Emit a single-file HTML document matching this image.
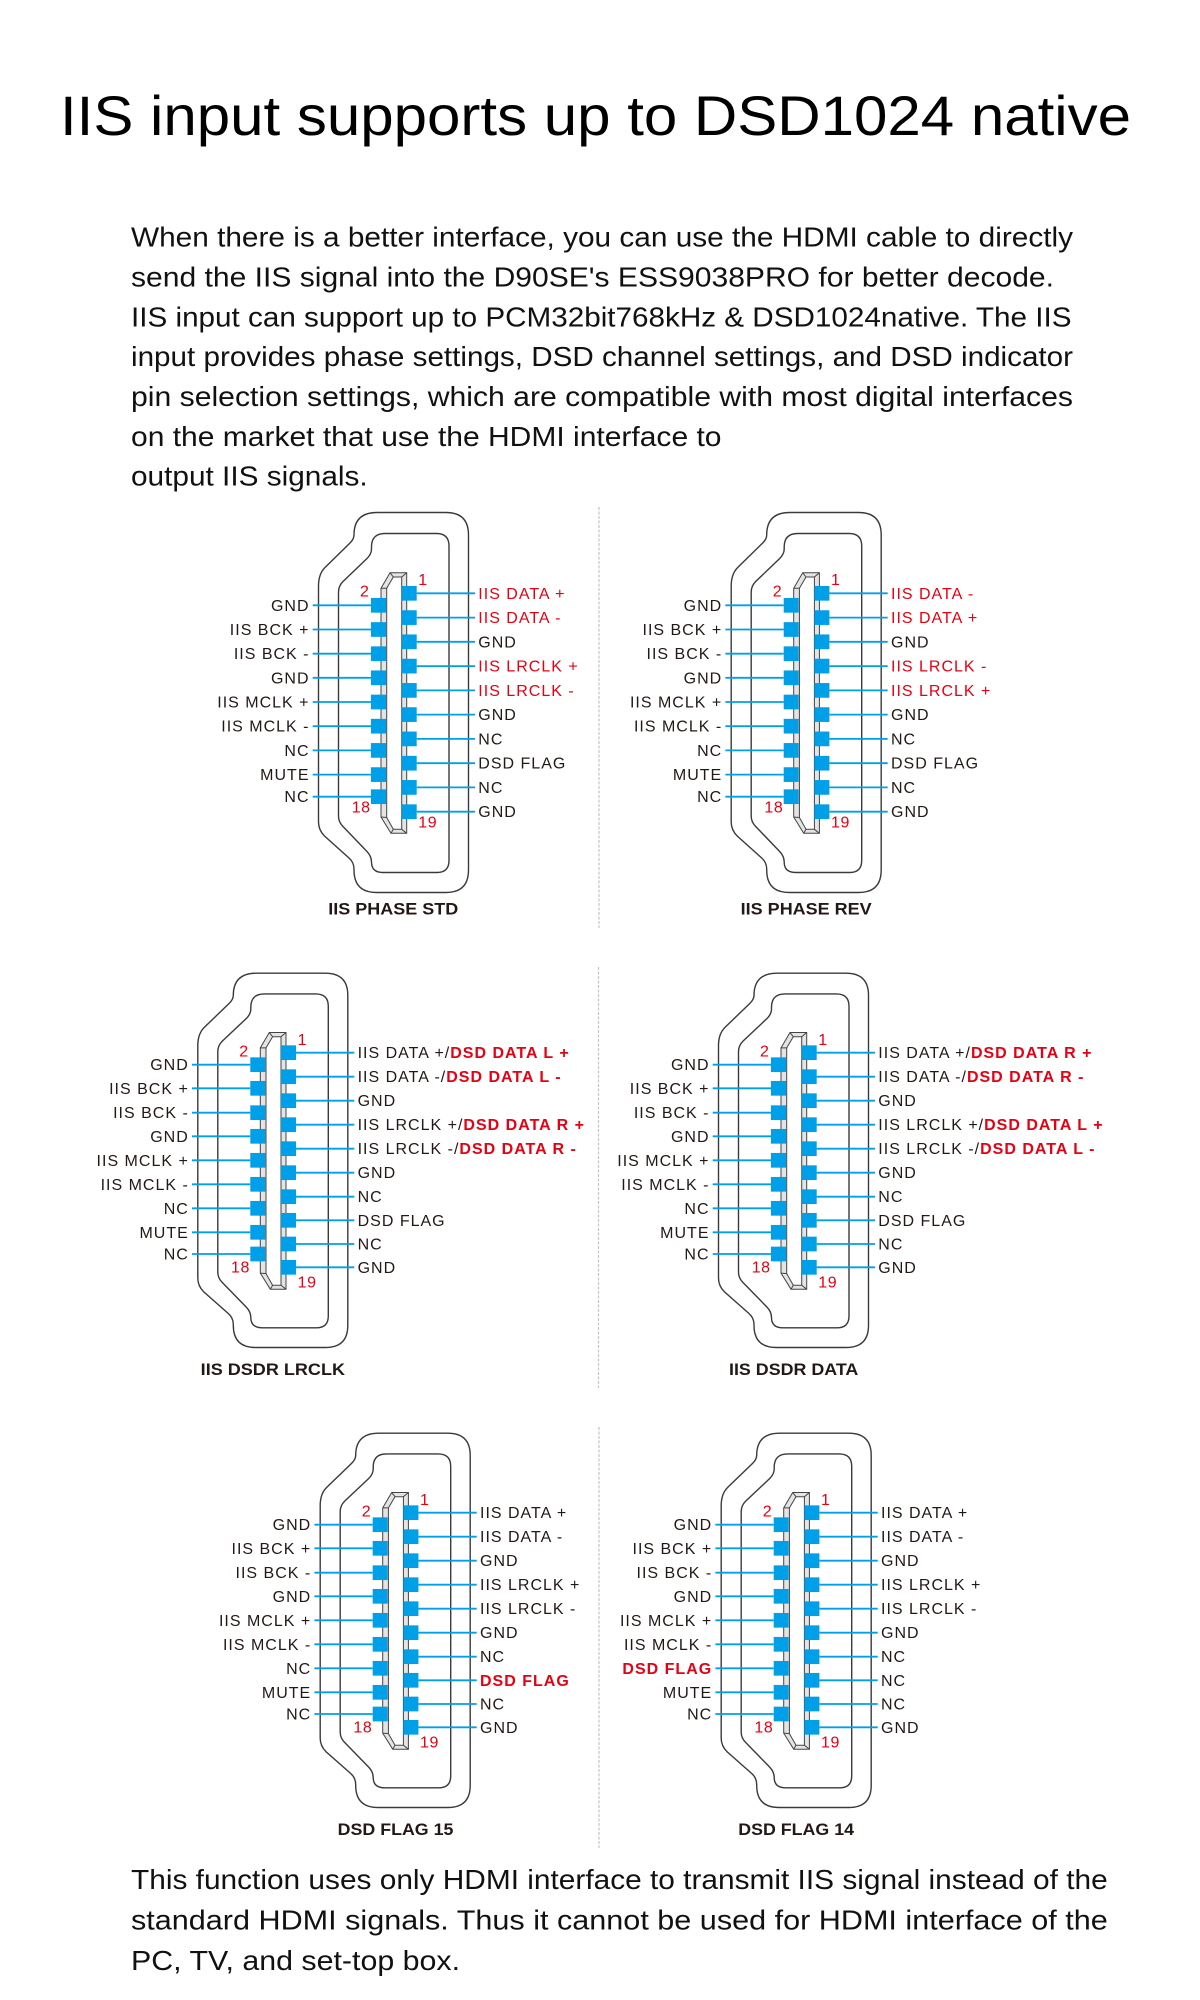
<!DOCTYPE html>
<html>
<head>
<meta charset="utf-8">
<style>
html,body{margin:0;padding:0;background:#fff;}
svg{display:block;}
.ttl{font-family:"Liberation Sans",Arial,sans-serif;font-size:56px;fill:#000;}
.p{font-family:"Liberation Sans",Arial,sans-serif;font-size:28px;fill:#111;}
.lb{font-family:"Liberation Sans",Arial,sans-serif;font-size:16px;letter-spacing:1px;fill:#231815;}
.lb.l{text-anchor:end;}
.red{fill:#e60012;}
.rb{fill:#e60012;font-weight:bold;}
.num{font-family:"Liberation Sans",Arial,sans-serif;font-size:16px;fill:#e60012;letter-spacing:0.6px;}
.dt{font-family:"Liberation Sans",Arial,sans-serif;font-size:17px;font-weight:bold;fill:#231815;}
</style>
</head>
<body>
<svg width="1200" height="2000" viewBox="0 0 1200 2000" xmlns="http://www.w3.org/2000/svg" xmlns:xlink="http://www.w3.org/1999/xlink">
<defs>
  <g id="conn">
    <path d="M318.5 586 L318.5 822 Q318.5 830 324.5 836 L349 858 Q354 862.5 354 869 L354 870 Q354 892.5 376.5 892.5 L446 892.5 Q468.5 892.5 468.5 870 L468.5 535 Q468.5 512.5 446 512.5 L377 512.5 Q354 512.5 354 535 Q354 539 350 543 L325 567.5 Q318.5 574 318.5 586 Z" fill="none" stroke="#3a3a3a" stroke-width="1.4" vector-effect="non-scaling-stroke"/>
    <path d="M338.5 592 L338.5 816 Q338.5 822 343 826.5 L366.5 851 Q371.5 856 371.5 862 Q371.5 872.5 383 872.5 L437 872.5 Q449 872.5 449 860.5 L449 546 Q449 533.5 436.5 533.5 L385 533.5 Q371.5 533.5 371.5 547 L371.5 549 Q371.5 554 367 558.5 L343 581.5 Q338.5 586 338.5 592 Z" fill="none" stroke="#3a3a3a" stroke-width="1.4" vector-effect="non-scaling-stroke"/>
    <path d="M381 588.3 L390 572.7 L406.7 572.7 L406.7 833.3 L391 833.3 L381 817 Z" fill="#e4e4e4" stroke="#444" stroke-width="1" vector-effect="non-scaling-stroke"/>
    <path d="M386.7 588.3 L393.3 577 L401.7 577 L401.7 829.3 L393.3 829.3 L386.7 817.5 Z" fill="#fff" stroke="#444" stroke-width="1" vector-effect="non-scaling-stroke"/>
    <path d="M390 572.7 L393.3 577 M381 588.3 L386.7 588.3 M381 817 L386.7 817.5 M391 833.3 L393.3 829.3 M406.7 572.7 L401.7 577 M406.7 833.3 L401.7 829.3" fill="none" stroke="#444" stroke-width="1" vector-effect="non-scaling-stroke"/>
  </g>

  <g id="p1">
    <path d="M416.7 593.3H475 M416.7 617.6H475 M416.7 641.8H475 M416.7 666.1H475 M416.7 690.4H475 M416.7 714.6H475 M416.7 738.9H475 M416.7 763.2H475 M416.7 787.4H475 M416.7 811.7H475 M312.7 605.3H371 M312.7 629.5H371 M312.7 653.7H371 M312.7 677.8H371 M312.7 702H371 M312.7 726.2H371 M312.7 750.4H371 M312.7 774.6H371 M312.7 796.7H371" stroke="#00a0e9" stroke-width="1.8" fill="none"/>
    <g fill="#00a0e9">
      <rect x="401.7" y="585.95" width="15" height="14.7"/>
      <rect x="401.7" y="610.25" width="15" height="14.7"/>
      <rect x="401.7" y="634.45" width="15" height="14.7"/>
      <rect x="401.7" y="658.75" width="15" height="14.7"/>
      <rect x="401.7" y="683.05" width="15" height="14.7"/>
      <rect x="401.7" y="707.25" width="15" height="14.7"/>
      <rect x="401.7" y="731.55" width="15" height="14.7"/>
      <rect x="401.7" y="755.85" width="15" height="14.7"/>
      <rect x="401.7" y="780.05" width="15" height="14.7"/>
      <rect x="401.7" y="804.35" width="15" height="14.7"/>
      <rect x="371" y="597.95" width="15" height="14.7"/>
      <rect x="371" y="622.15" width="15" height="14.7"/>
      <rect x="371" y="646.35" width="15" height="14.7"/>
      <rect x="371" y="670.45" width="15" height="14.7"/>
      <rect x="371" y="694.65" width="15" height="14.7"/>
      <rect x="371" y="718.85" width="15" height="14.7"/>
      <rect x="371" y="743.05" width="15" height="14.7"/>
      <rect x="371" y="767.25" width="15" height="14.7"/>
      <rect x="371" y="789.35" width="15" height="14.7"/>
    </g>
    <text class="num" x="418.3" y="585">1</text>
    <text class="num" x="360" y="596.7">2</text>
    <text class="num" x="351.7" y="812.7">18</text>
    <text class="num" x="418.3" y="827.7">19</text>
  </g>

  <g id="p2">
    <path d="M416.7 1052.7H475 M416.7 1076.7H475 M416.7 1100.7H475 M416.7 1124.7H475 M416.7 1148.7H475 M416.7 1172.7H475 M416.7 1196.7H475 M416.7 1220.3H475 M416.7 1244H475 M416.7 1267.3H475 M312.7 1064.7H371 M312.7 1088.3H371 M312.7 1112.7H371 M312.7 1136.3H371 M312.7 1160.3H371 M312.7 1184.3H371 M312.7 1208.3H371 M312.7 1232.3H371 M312.7 1254H371" stroke="#00a0e9" stroke-width="1.8" fill="none"/>
    <g fill="#00a0e9">
      <rect x="401.7" y="1045.35" width="15" height="14.7"/>
      <rect x="401.7" y="1069.35" width="15" height="14.7"/>
      <rect x="401.7" y="1093.35" width="15" height="14.7"/>
      <rect x="401.7" y="1117.35" width="15" height="14.7"/>
      <rect x="401.7" y="1141.35" width="15" height="14.7"/>
      <rect x="401.7" y="1165.35" width="15" height="14.7"/>
      <rect x="401.7" y="1189.35" width="15" height="14.7"/>
      <rect x="401.7" y="1212.95" width="15" height="14.7"/>
      <rect x="401.7" y="1236.65" width="15" height="14.7"/>
      <rect x="401.7" y="1259.95" width="15" height="14.7"/>
      <rect x="371" y="1057.35" width="15" height="14.7"/>
      <rect x="371" y="1080.95" width="15" height="14.7"/>
      <rect x="371" y="1105.35" width="15" height="14.7"/>
      <rect x="371" y="1128.95" width="15" height="14.7"/>
      <rect x="371" y="1152.95" width="15" height="14.7"/>
      <rect x="371" y="1176.95" width="15" height="14.7"/>
      <rect x="371" y="1200.95" width="15" height="14.7"/>
      <rect x="371" y="1224.95" width="15" height="14.7"/>
      <rect x="371" y="1246.65" width="15" height="14.7"/>
    </g>
    <text class="num" x="418.3" y="1045">1</text>
    <text class="num" x="360" y="1056.7">2</text>
    <text class="num" x="351.7" y="1272.7">18</text>
    <text class="num" x="418.3" y="1287.7">19</text>
  </g>

  <g id="L1">
    <text class="lb l" x="309.5" y="610.8">GND</text>
    <text class="lb l" x="309.5" y="635">IIS BCK +</text>
    <text class="lb l" x="309.5" y="659.2">IIS BCK -</text>
    <text class="lb l" x="309.5" y="683.3">GND</text>
    <text class="lb l" x="309.5" y="707.5">IIS MCLK +</text>
    <text class="lb l" x="309.5" y="731.7">IIS MCLK -</text>
    <text class="lb l" x="309.5" y="755.9">NC</text>
    <text class="lb l" x="309.5" y="780.1">MUTE</text>
    <text class="lb l" x="309.5" y="802.2">NC</text>
  </g>

  <g id="L2">
    <text class="lb l" x="309.5" y="1070.2">GND</text>
    <text class="lb l" x="309.5" y="1093.8">IIS BCK +</text>
    <text class="lb l" x="309.5" y="1118.2">IIS BCK -</text>
    <text class="lb l" x="309.5" y="1141.8">GND</text>
    <text class="lb l" x="309.5" y="1165.8">IIS MCLK +</text>
    <text class="lb l" x="309.5" y="1189.8">IIS MCLK -</text>
    <text class="lb l" x="309.5" y="1213.8">NC</text>
    <text class="lb l" x="309.5" y="1237.8">MUTE</text>
    <text class="lb l" x="309.5" y="1259.5">NC</text>
  </g>

  <g id="R1tail">
    <text class="lb" x="478.3" y="647.3">GND</text>
    <text class="lb" x="478.3" y="720.1">GND</text>
    <text class="lb" x="478.3" y="744.4">NC</text>
    <text class="lb" x="478.3" y="768.7">DSD FLAG</text>
    <text class="lb" x="478.3" y="792.9">NC</text>
    <text class="lb" x="478.3" y="817.2">GND</text>
  </g>

  <g id="R2tail">
    <text class="lb" x="478.3" y="1106.2">GND</text>
    <text class="lb" x="478.3" y="1178.2">GND</text>
    <text class="lb" x="478.3" y="1202.2">NC</text>
    <text class="lb" x="478.3" y="1225.8">DSD FLAG</text>
    <text class="lb" x="478.3" y="1249.5">NC</text>
    <text class="lb" x="478.3" y="1272.8">GND</text>
  </g>
</defs>

<!-- Title -->
<text class="ttl" x="60" y="135" textLength="1071" lengthAdjust="spacingAndGlyphs">IIS input supports up to DSD1024 native</text>

<!-- Paragraph -->
<text class="p" x="131" y="246.7" textLength="942" lengthAdjust="spacingAndGlyphs">When there is a better interface, you can use the HDMI cable to directly</text>
<text class="p" x="131" y="286.5" textLength="923" lengthAdjust="spacingAndGlyphs">send the IIS signal into the D90SE's ESS9038PRO for better decode.</text>
<text class="p" x="131" y="326.3" textLength="940.5" lengthAdjust="spacingAndGlyphs">IIS input can support up to PCM32bit768kHz &amp; DSD1024native. The IIS</text>
<text class="p" x="131" y="366.2" textLength="942" lengthAdjust="spacingAndGlyphs">input provides phase settings, DSD channel settings, and DSD indicator</text>
<text class="p" x="131" y="406" textLength="942" lengthAdjust="spacingAndGlyphs">pin selection settings, which are compatible with most digital interfaces</text>
<text class="p" x="131" y="445.8" textLength="590.5" lengthAdjust="spacingAndGlyphs">on the market that use the HDMI interface to</text>
<text class="p" x="131" y="485.6" textLength="236.7" lengthAdjust="spacingAndGlyphs">output IIS signals.</text>

<!-- Dividers -->
<g stroke="#c4c4c4" stroke-width="1.2" stroke-dasharray="3 1.5">
  <line x1="599" y1="507" x2="599" y2="928"/>
  <line x1="598.5" y1="967" x2="598.5" y2="1388"/>
  <line x1="599" y1="1427" x2="599" y2="1848"/>
</g>

<!-- Connector outlines -->
<use xlink:href="#conn" href="#conn"/>
<use xlink:href="#conn" href="#conn" transform="translate(412.7,0)"/>
<use xlink:href="#conn" href="#conn" transform="translate(-120.7,974) scale(1,0.985) translate(0,-513.3)"/>
<use xlink:href="#conn" href="#conn" transform="translate(400,974) scale(1,0.985) translate(0,-513.3)"/>
<use xlink:href="#conn" href="#conn" transform="translate(1.7,1434) scale(1,0.985) translate(0,-513.3)"/>
<use xlink:href="#conn" href="#conn" transform="translate(402.7,1434) scale(1,0.985) translate(0,-513.3)"/>

<!-- Pins -->
<use xlink:href="#p1" href="#p1"/>
<use xlink:href="#p1" href="#p1" transform="translate(412.7,0)"/>
<use xlink:href="#p2" href="#p2" transform="translate(-120.7,0)"/>
<use xlink:href="#p2" href="#p2" transform="translate(400,0)"/>
<use xlink:href="#p2" href="#p2" transform="translate(1.7,460)"/>
<use xlink:href="#p2" href="#p2" transform="translate(402.7,460)"/>

<!-- D1: IIS PHASE STD -->
<use xlink:href="#L1" href="#L1"/>
<use xlink:href="#R1tail" href="#R1tail"/>
<text class="lb red" x="478.3" y="598.8">IIS DATA +</text>
<text class="lb red" x="478.3" y="623.1">IIS DATA -</text>
<text class="lb red" x="478.3" y="671.6">IIS LRCLK +</text>
<text class="lb red" x="478.3" y="695.9">IIS LRCLK -</text>
<text class="dt" x="328.3" y="914.3" textLength="130" lengthAdjust="spacingAndGlyphs">IIS PHASE STD</text>

<!-- D2: IIS PHASE REV -->
<g transform="translate(412.7,0)">
  <use xlink:href="#L1" href="#L1"/>
  <use xlink:href="#R1tail" href="#R1tail"/>
  <text class="lb red" x="478.3" y="598.8">IIS DATA -</text>
  <text class="lb red" x="478.3" y="623.1">IIS DATA +</text>
  <text class="lb red" x="478.3" y="671.6">IIS LRCLK -</text>
  <text class="lb red" x="478.3" y="695.9">IIS LRCLK +</text>
</g>
<text class="dt" x="740.7" y="914.3" textLength="131" lengthAdjust="spacingAndGlyphs">IIS PHASE REV</text>

<!-- D3: IIS DSDR LRCLK -->
<g transform="translate(-120.7,0)">
  <use xlink:href="#L2" href="#L2"/>
  <use xlink:href="#R2tail" href="#R2tail"/>
  <text class="lb" x="478.3" y="1058.2">IIS DATA +/<tspan class="rb">DSD DATA L +</tspan></text>
  <text class="lb" x="478.3" y="1082.2">IIS DATA -/<tspan class="rb">DSD DATA L -</tspan></text>
  <text class="lb" x="478.3" y="1130.2">IIS LRCLK +/<tspan class="rb">DSD DATA R +</tspan></text>
  <text class="lb" x="478.3" y="1154.2">IIS LRCLK -/<tspan class="rb">DSD DATA R -</tspan></text>
</g>
<text class="dt" x="200.7" y="1375" textLength="144.3" lengthAdjust="spacingAndGlyphs">IIS DSDR LRCLK</text>

<!-- D4: IIS DSDR DATA -->
<g transform="translate(400,0)">
  <use xlink:href="#L2" href="#L2"/>
  <use xlink:href="#R2tail" href="#R2tail"/>
  <text class="lb" x="478.3" y="1058.2">IIS DATA +/<tspan class="rb">DSD DATA R +</tspan></text>
  <text class="lb" x="478.3" y="1082.2">IIS DATA -/<tspan class="rb">DSD DATA R -</tspan></text>
  <text class="lb" x="478.3" y="1130.2">IIS LRCLK +/<tspan class="rb">DSD DATA L +</tspan></text>
  <text class="lb" x="478.3" y="1154.2">IIS LRCLK -/<tspan class="rb">DSD DATA L -</tspan></text>
</g>
<text class="dt" x="729" y="1375" textLength="129.3" lengthAdjust="spacingAndGlyphs">IIS DSDR DATA</text>

<!-- D5: DSD FLAG 15 -->
<g transform="translate(1.7,460)">
  <use xlink:href="#L2" href="#L2"/>
  <text class="lb" x="478.3" y="1058.2">IIS DATA +</text>
  <text class="lb" x="478.3" y="1082.2">IIS DATA -</text>
  <text class="lb" x="478.3" y="1106.2">GND</text>
  <text class="lb" x="478.3" y="1130.2">IIS LRCLK +</text>
  <text class="lb" x="478.3" y="1154.2">IIS LRCLK -</text>
  <text class="lb" x="478.3" y="1178.2">GND</text>
  <text class="lb" x="478.3" y="1202.2">NC</text>
  <text class="lb rb" x="478.3" y="1225.8">DSD FLAG</text>
  <text class="lb" x="478.3" y="1249.5">NC</text>
  <text class="lb" x="478.3" y="1272.8">GND</text>
</g>
<text class="dt" x="337.7" y="1835" textLength="115.7" lengthAdjust="spacingAndGlyphs">DSD FLAG 15</text>

<!-- D6: DSD FLAG 14 -->
<g transform="translate(402.7,460)">
  <text class="lb l" x="309.5" y="1070.2">GND</text>
  <text class="lb l" x="309.5" y="1093.8">IIS BCK +</text>
  <text class="lb l" x="309.5" y="1118.2">IIS BCK -</text>
  <text class="lb l" x="309.5" y="1141.8">GND</text>
  <text class="lb l" x="309.5" y="1165.8">IIS MCLK +</text>
  <text class="lb l" x="309.5" y="1189.8">IIS MCLK -</text>
  <text class="lb l rb" x="309.5" y="1213.8">DSD FLAG</text>
  <text class="lb l" x="309.5" y="1237.8">MUTE</text>
  <text class="lb l" x="309.5" y="1259.5">NC</text>
  <text class="lb" x="478.3" y="1058.2">IIS DATA +</text>
  <text class="lb" x="478.3" y="1082.2">IIS DATA -</text>
  <text class="lb" x="478.3" y="1106.2">GND</text>
  <text class="lb" x="478.3" y="1130.2">IIS LRCLK +</text>
  <text class="lb" x="478.3" y="1154.2">IIS LRCLK -</text>
  <text class="lb" x="478.3" y="1178.2">GND</text>
  <text class="lb" x="478.3" y="1202.2">NC</text>
  <text class="lb" x="478.3" y="1225.8">NC</text>
  <text class="lb" x="478.3" y="1249.5">NC</text>
  <text class="lb" x="478.3" y="1272.8">GND</text>
</g>
<text class="dt" x="738.3" y="1835" textLength="115.7" lengthAdjust="spacingAndGlyphs">DSD FLAG 14</text>

<!-- Bottom paragraph -->
<text class="p" x="131" y="1889" textLength="976.7" lengthAdjust="spacingAndGlyphs">This function uses only HDMI interface to transmit IIS signal instead of the</text>
<text class="p" x="131" y="1929.5" textLength="976.7" lengthAdjust="spacingAndGlyphs">standard HDMI signals. Thus it cannot be used for HDMI interface of the</text>
<text class="p" x="131" y="1970" textLength="329" lengthAdjust="spacingAndGlyphs">PC, TV, and set-top box.</text>
</svg>
</body>
</html>
